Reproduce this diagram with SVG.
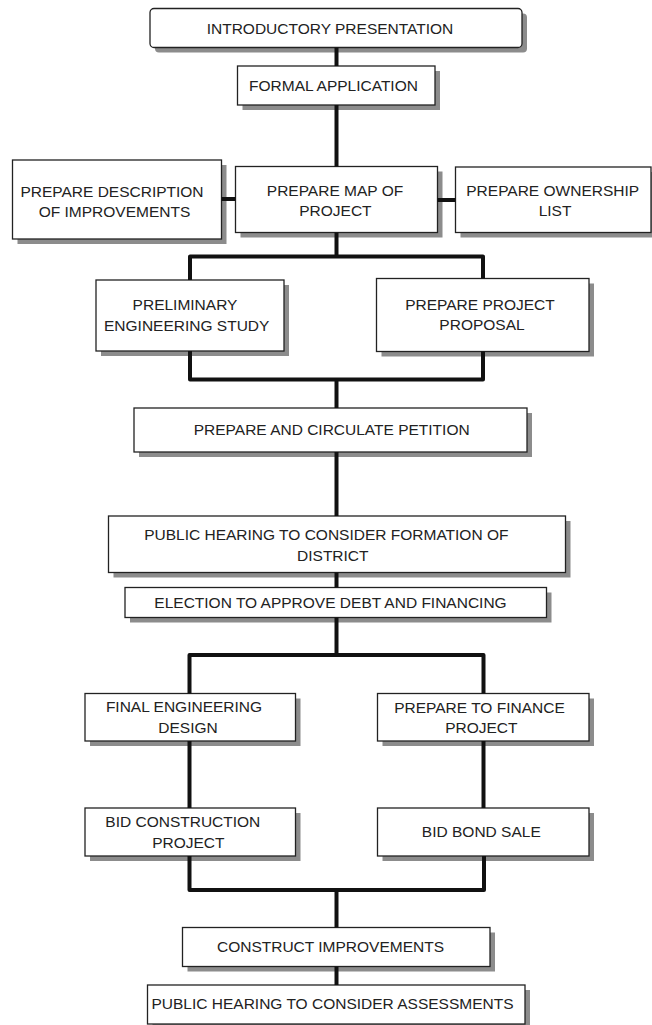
<svg xmlns="http://www.w3.org/2000/svg" width="652" height="1025" viewBox="0 0 652 1025">
<defs>
<style>
.sh{fill:#8c8c8c;}
.bx{fill:#ffffff;stroke:#222222;stroke-width:1.3;}
.t{font-family:"Liberation Sans",Arial,sans-serif;font-size:15.5px;fill:#222222;text-anchor:middle;}
.c{fill:none;stroke:#111111;stroke-width:4;stroke-linejoin:round;}
</style>
</defs>
<rect width="652" height="1025" fill="#ffffff"/>
<g id="nodes">
<g id="n-intro">
<rect class="sh" x="155" y="13.5" width="372" height="39" rx="4"/>
<rect class="bx" x="150" y="8.5" width="372" height="39" rx="4"/>
<text class="t" x="330" y="33.5">INTRODUCTORY PRESENTATION</text>
</g>
<g id="n-formal">
<rect class="sh" x="242.5" y="71" width="197.5" height="39"/>
<rect class="bx" x="237.5" y="66" width="197.5" height="39"/>
<text class="t" x="333.5" y="91">FORMAL APPLICATION</text>
</g>
<g id="n-describe">
<rect class="sh" x="17.5" y="165" width="209" height="79"/>
<rect class="bx" x="12.5" y="160" width="209" height="79"/>
<text class="t" x="112" y="196.7">PREPARE DESCRIPTION</text>
<text class="t" x="114.5" y="216.7">OF IMPROVEMENTS</text>
</g>
<g id="n-map">
<rect class="sh" x="240.5" y="171.5" width="202" height="66"/>
<rect class="bx" x="235.5" y="166.5" width="202" height="66"/>
<text class="t" x="335" y="195.7">PREPARE MAP OF</text>
<text class="t" x="335.4" y="215.7">PROJECT</text>
</g>
<g id="n-ownership">
<rect class="sh" x="460.5" y="172" width="195.5" height="65.5"/>
<rect class="bx" x="455.5" y="167" width="195.5" height="65.5"/>
<text class="t" x="552.7" y="195.7">PREPARE OWNERSHIP</text>
<text class="t" x="555" y="215.7">LIST</text>
</g>
<g id="n-prelim">
<rect class="sh" x="101" y="285" width="188" height="71"/>
<rect class="bx" x="96" y="280" width="188" height="71"/>
<text class="t" x="185" y="310">PRELIMINARY</text>
<text class="t" x="186.7" y="330.5">ENGINEERING STUDY</text>
</g>
<g id="n-proposal">
<rect class="sh" x="381.5" y="283.5" width="212.5" height="73"/>
<rect class="bx" x="376.5" y="278.5" width="212.5" height="73"/>
<text class="t" x="480" y="309.5">PREPARE PROJECT</text>
<text class="t" x="482" y="330.3">PROPOSAL</text>
</g>
<g id="n-petition">
<rect class="sh" x="139" y="413" width="393" height="44"/>
<rect class="bx" x="134" y="408" width="393" height="44"/>
<text class="t" x="331.7" y="435">PREPARE AND CIRCULATE PETITION</text>
</g>
<g id="n-hearing">
<rect class="sh" x="113.5" y="521" width="457" height="56.5"/>
<rect class="bx" x="108.5" y="516" width="457" height="56.5"/>
<text class="t" x="326.3" y="540">PUBLIC HEARING TO CONSIDER FORMATION OF</text>
<text class="t" x="332.8" y="560.7">DISTRICT</text>
</g>
<g id="n-election">
<rect class="sh" x="130" y="592.5" width="421.5" height="30"/>
<rect class="bx" x="125" y="587.5" width="421.5" height="30"/>
<text class="t" x="330.5" y="608.3">ELECTION TO APPROVE DEBT AND FINANCING</text>
</g>
<g id="n-finaleng">
<rect class="sh" x="90" y="698.5" width="210.5" height="47.5"/>
<rect class="bx" x="85" y="693.5" width="210.5" height="47.5"/>
<text class="t" x="184" y="712.3">FINAL ENGINEERING</text>
<text class="t" x="188" y="733.3">DESIGN</text>
</g>
<g id="n-finance">
<rect class="sh" x="382.5" y="698.5" width="211.5" height="47.5"/>
<rect class="bx" x="377.5" y="693.5" width="211.5" height="47.5"/>
<text class="t" x="479.5" y="712.7">PREPARE TO FINANCE</text>
<text class="t" x="481.3" y="733.3">PROJECT</text>
</g>
<g id="n-bidconstr">
<rect class="sh" x="90" y="813" width="210.5" height="48"/>
<rect class="bx" x="85" y="808" width="210.5" height="48"/>
<text class="t" x="182.8" y="827.3">BID CONSTRUCTION</text>
<text class="t" x="188.3" y="848.3">PROJECT</text>
</g>
<g id="n-bond">
<rect class="sh" x="382.5" y="813" width="211.5" height="48"/>
<rect class="bx" x="377.5" y="808" width="211.5" height="48"/>
<text class="t" x="481.3" y="836.7">BID BOND SALE</text>
</g>
<g id="n-construct">
<rect class="sh" x="187.5" y="932.5" width="307.5" height="39"/>
<rect class="bx" x="182.5" y="927.5" width="307.5" height="39"/>
<text class="t" x="330.5" y="951.7">CONSTRUCT IMPROVEMENTS</text>
</g>
<g id="n-assess">
<rect class="sh" x="152.5" y="990" width="377.5" height="39"/>
<rect class="bx" x="147.5" y="985" width="377.5" height="39"/>
<text class="t" x="332.5" y="1009.3">PUBLIC HEARING TO CONSIDER ASSESSMENTS</text>
</g>
</g>
<g id="connectors">
<path class="c" d="M336.5 47.5 V66"/>
<path class="c" d="M336.5 105 V166.5"/>
<path class="c" d="M221.5 199 H235.5"/>
<path class="c" d="M437.5 200 H455.5"/>
<path class="c" d="M336.5 232.5 V256.5"/>
<path class="c" d="M190 280 V256.5 H483 V278.5"/>
<path class="c" d="M190 351 V379.5 H483 V351.5"/>
<path class="c" d="M336.5 379.5 V408"/>
<path class="c" d="M336.5 452 V516"/>
<path class="c" d="M336.5 572.5 V587.5"/>
<path class="c" d="M336.5 617.5 V655"/>
<path class="c" d="M189.5 693.5 V655 H483.5 V693.5"/>
<path class="c" d="M189.5 741 V808"/>
<path class="c" d="M483.5 741 V808"/>
<path class="c" d="M189.5 856 V890 H484 V856"/>
<path class="c" d="M336.5 890 V927.5"/>
<path class="c" d="M336.5 966.5 V985"/>
</g>
</svg>
